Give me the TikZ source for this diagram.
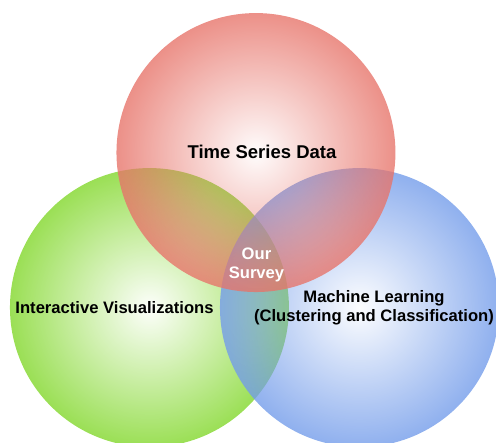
\documentclass[tikz,border=0pt]{standalone}
\usepackage{fontspec}
\setmainfont{Liberation Sans}
\usetikzlibrary{positioning}
\usetikzlibrary{fadings}

\definecolor{tsred}{HTML}{E7746A}
\definecolor{ivgreen}{HTML}{81D72A}
\definecolor{mlblue}{HTML}{739CEA}

\tikzfading[name=glow, inner color=transparent!98, outer color=transparent!20]

\begin{document}
\begin{tikzpicture}
    [ x=1pt, y=-1pt,
    set/.style={path fading=glow},
    lbl/.style={font=\bfseries\fontsize{16.6}{19}\selectfont, align=center, inner sep=0pt}
    ]

    \useasboundingbox (0,0) rectangle (496,443);
    \clip (0,0) rectangle (496,443);

    \coordinate (iv) at (149.5,307.5);
    \coordinate (ml) at (359.5,307.5);
    \coordinate (ts) at (256,152.5);

    \fill[set, ivgreen] (iv) circle[radius=139.5pt];
    \fill[set, mlblue]  (ml) circle[radius=139.5pt];
    \fill[set, tsred]   (ts) circle[radius=139.5pt];

    \node[lbl, font=\bfseries\fontsize{18.5}{22}\selectfont] (tsl) at (262,151.5) {Time Series Data};
    \node[lbl] (ivl) at (114.5,307.5) {Interactive Visualizations};
    \node[lbl] (mll) at (374,308) {Machine Learning\\(Clustering and Classification)};
    \node[lbl, text=white] (os) at (256.5,265) {Our\\Survey};
  \end{tikzpicture}
\end{document}
